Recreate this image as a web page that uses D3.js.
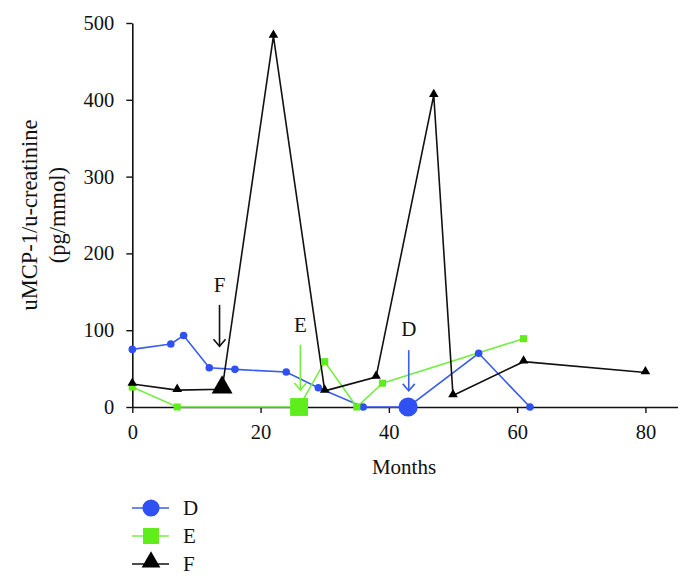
<!DOCTYPE html>
<html>
<head>
<meta charset="utf-8">
<script src="https://cdn.jsdelivr.net/npm/d3@7/dist/d3.min.js"></script>
<style>
  html, body { margin: 0; padding: 0; background: #ffffff; }
  svg { display: block; }
  text { font-family: "Liberation Serif", "DejaVu Serif", serif; fill: #111; }
</style>
</head>
<body>
<svg id="chart" width="691" height="585"></svg>
<script>
// ---- Data ----
const seriesNames = ["D", "E", "F"];
const dMonths = [0, 6, 8, 12, 16, 24, 29, 36, 43, 54, 62];
const dValues = [75, 82, 93, 51, 49, 45.5, 25, 0, 0, 70, 0];
const eMonths = [0, 7, 26, 30, 35, 39, 61];
const eValues = [26, 0, 0, 59, 0, 31, 89];
const fMonths = [0, 7, 14, 22, 30, 38, 47, 50, 61, 80];
const fValues = [30, 22, 23, 483, 21, 39, 406, 15, 59, 45];
const highlightMonths = [43, 26, 14];        // big marker per series (D, E, F)
const arrowMonths = [43.1, 26.2, 13.6];      // arrow positions (D, E, F)
const arrowTop = [74, 81, 133];
const arrowBottom = [21, 22, 79];
const arrowLabelY = [92, 98, 150];
const xTicks = [0, 20, 40, 60, 80];
const yTicks = [0, 100, 200, 300, 400, 500];
const xTitle = "Months";
const yTitleLines = ["uMCP-1/u-creatinine", "(pg/mmol)"];

// ---- Styles ----
const colors = { D: "#2f50f2", E: "#5fee1c", F: "#000000" };
const lineColors = { D: "#3a5cf0", E: "#77ee44", F: "#111111" };

const svg = d3.select("#chart");
const x = d3.scaleLinear().domain([0, 85]).range([132.3, 677.5]);
const y = d3.scaleLinear().domain([0, 500]).range([407, 23]);

// Axes
const xAxis = svg.append("g").attr("transform", `translate(0,${y(0)})`)
  .call(d3.axisBottom(x).tickValues(xTicks).tickSize(6).tickSizeOuter(0).tickPadding(11));
const yAxis = svg.append("g").attr("transform", `translate(${x(0)},0)`)
  .call(d3.axisLeft(y).tickValues(yTicks).tickSize(6).tickSizeOuter(0).tickPadding(12));
[xAxis, yAxis].forEach(g => {
  g.select(".domain").attr("stroke", "#111").attr("stroke-width", 1.6);
  g.selectAll(".tick line").attr("stroke", "#111").attr("stroke-width", 1.4);
  g.selectAll(".tick text").attr("font-size", 20.5).attr("font-family", "Liberation Serif, serif").attr("fill", "#111");
});

// Axis titles
svg.append("text").attr("x", 404).attr("y", 474).attr("text-anchor", "middle")
  .attr("font-size", 21).text(xTitle);
const yt = svg.append("text").attr("transform", "translate(37,215) rotate(-90)")
  .attr("text-anchor", "middle").attr("font-size", 22.5);
yTitleLines.forEach((t, i) => {
  yt.append("tspan").attr("x", 0).attr("dy", i === 0 ? 0 : 28).text(t);
});

const series = [
  { name: "D", months: dMonths, values: dValues, shape: d3.symbolCircle, small: 45, big: 290 },
  { name: "E", months: eMonths, values: eValues, shape: d3.symbolSquare, small: 50, big: 320 },
  { name: "F", months: fMonths, values: fValues, shape: d3.symbolTriangle, small: 40, big: 190 }
];

const line = d3.line().x(d => x(d[0])).y(d => y(d[1]));

series.forEach((s, si) => {
  const pts = s.months.map((m, i) => [m, s.values[i]]);
  svg.append("path").datum(pts).attr("d", line)
    .attr("fill", "none").attr("stroke", lineColors[s.name]).attr("stroke-width", 1.6);
});
series.forEach((s, si) => {
  const pts = s.months.map((m, i) => [m, s.values[i]]);
  svg.append("g").selectAll("path").data(pts).join("path")
    .attr("transform", d => {
      const big = d[0] === highlightMonths[si];
      const dy = s.shape === d3.symbolTriangle ? (big ? -2 : -1) : 0;
      return `translate(${x(d[0])},${y(d[1]) + dy})`;
    })
    .attr("d", d => d3.symbol().type(s.shape).size(d[0] === highlightMonths[si] ? s.big : s.small)())
    .attr("fill", colors[s.name]);
});

// Arrows with labels
seriesNames.forEach((n, i) => {
  const ax = x(arrowMonths[i]);
  const col = n === "F" ? "#111" : lineColors[n];
  const yb = y(arrowBottom[i]);
  svg.append("line").attr("x1", ax).attr("x2", ax).attr("y1", y(arrowTop[i])).attr("y2", yb)
    .attr("stroke", col).attr("stroke-width", 1.6);
  svg.append("path").attr("d", `M${ax - 6},${yb - 7} L${ax},${yb} L${ax + 6},${yb - 7}`)
    .attr("fill", "none").attr("stroke", col).attr("stroke-width", 1.6);
  svg.append("text").attr("x", ax).attr("y", y(arrowLabelY[i])).attr("text-anchor", "middle")
    .attr("font-size", 21).text(n);
});

// Legend
series.forEach((s, i) => {
  const ly = 508 + i * 28;
  svg.append("line").attr("x1", 132).attr("x2", 169).attr("y1", ly).attr("y2", ly)
    .attr("stroke", lineColors[s.name]).attr("stroke-width", 1.6);
  svg.append("path").attr("transform", `translate(151,${ly + (s.shape === d3.symbolTriangle ? -2 : 0)})`)
    .attr("d", d3.symbol().type(s.shape).size(s.big * 0.8)()).attr("fill", colors[s.name]);
  svg.append("text").attr("x", 183).attr("y", ly + 7).attr("font-size", 21).text(s.name);
});
</script>
</body>
</html>
